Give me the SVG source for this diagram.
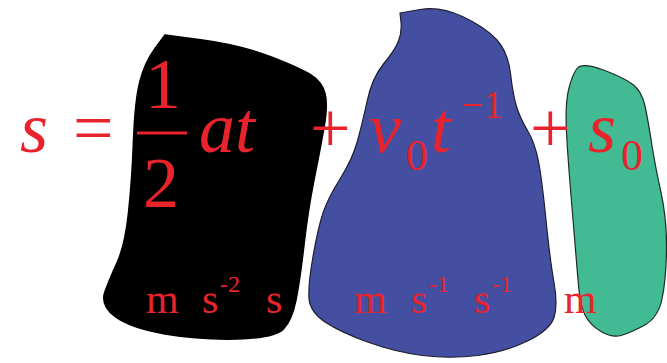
<svg xmlns="http://www.w3.org/2000/svg" width="667" height="363" viewBox="0 0 667 363">
<rect width="667" height="363" fill="#ffffff"/>
<g id="blob-black">
<path d="M202.5,40 Q240,45 270,56.5 Q300,68 311,75 Q322,82 325,93.5 Q328,105 324,127.5 Q320,150 314,180 Q308,210 304,245 Q300,280 296,300 Q292,320 283.5,329 Q275,338 237.5,339 Q200,340 165,334 Q130,328 115,316.5 Q100,305 105,291.5 Q110,278 117.5,261.5 Q125,245 128.5,212.5 Q132,180 133.5,140 Q135,100 140,81 Q145,62 155,48.5 L165,35 Z" fill="#000000" stroke="#000000" stroke-width="1.5" stroke-linejoin="round"/>
</g>
<g id="blob-blue">
<path d="M420,9.5 Q440,6 462.5,16.5 Q485,27 496.5,39.5 Q508,52 510.5,73.5 Q513,95 516.5,106.5 Q520,118 527.5,130.5 Q535,143 538.5,161.5 Q542,180 546,220 Q550,260 554,282.5 Q558,305 554,317.5 Q550,330 527.5,341 Q505,352 477.5,355.5 Q450,359 422.5,355.5 Q395,352 367.5,342 Q340,332 325,322 Q310,312 309,298.5 Q308,285 313,256.5 Q318,228 323,213 Q328,198 340,179 Q352,160 357,142.5 Q362,125 367,101.5 Q372,78 383.5,64 Q395,50 398.5,41 Q402,32 401,22 L400,13 Z" fill="#444fa1" stroke="#1e1e2e" stroke-width="1.2" stroke-linejoin="round"/>
</g>
<g id="blob-green">
<path d="M603.5,70 Q625,78 633.5,85 Q642,92 645,106 Q648,120 651.5,142.5 Q655,165 661,192.5 Q667,220 666.5,250 Q666,280 662,299 Q658,318 644,325.5 Q630,333 621,335.5 Q612,338 601,331.5 Q590,325 585,315 Q580,305 578,280 Q576,255 572,207.5 Q568,160 566.5,132.5 Q565,105 568.5,90 Q572,75 577,68.5 Q582,62 603.5,70 Z" fill="#42ba93" stroke="#1e2e28" stroke-width="1.2" stroke-linejoin="round"/>
</g>
<g id="equation">
<text fill="#e8232b" font-family="serif" font-style="italic" font-size="72" x="20" y="152">s</text>
<text fill="#e8232b" font-family="serif" font-size="72" x="73" y="152">=</text>
<rect x="137" y="131.5" width="50" height="3" fill="#e8232b"/>
<text fill="#e8232b" font-family="serif" font-size="72" x="145" y="108">1</text>
<text fill="#e8232b" font-family="serif" font-size="72" x="143" y="207">2</text>
<text fill="#e8232b" font-family="serif" font-style="italic" font-size="72" x="199" y="152">at</text>
<text fill="#e8232b" font-family="serif" font-size="72" x="310" y="152">+</text>
<text fill="#e8232b" font-family="serif" font-style="italic" font-size="72" x="369" y="152">v</text>
<text fill="#e8232b" font-family="serif" font-size="44" x="406" y="170">0</text>
<text fill="#e8232b" font-family="serif" font-style="italic" font-size="72" x="431" y="152">t</text>
<text fill="#e8232b" font-family="serif" font-size="40" x="461" y="118">−1</text>
<text fill="#e8232b" font-family="serif" font-size="72" x="530" y="152">+</text>
<text fill="#e8232b" font-family="serif" font-style="italic" font-size="72" x="588" y="152">s</text>
<text fill="#e8232b" font-family="serif" font-size="44" x="621" y="170">0</text>
</g>
<g id="units">
<text fill="#e8232b" font-family="serif" font-size="42" x="146" y="313">m</text>
<text fill="#e8232b" font-family="serif" font-size="42" x="202" y="313">s</text>
<text fill="#e8232b" font-family="serif" font-size="24" x="220" y="292">-2</text>
<text fill="#e8232b" font-family="serif" font-size="42" x="266" y="313">s</text>
<text fill="#e8232b" font-family="serif" font-size="42" x="354" y="313">m</text>
<text fill="#e8232b" font-family="serif" font-size="42" x="411" y="313">s</text>
<text fill="#e8232b" font-family="serif" font-size="24" x="429" y="292">-1</text>
<text fill="#e8232b" font-family="serif" font-size="42" x="474" y="313">s</text>
<text fill="#e8232b" font-family="serif" font-size="24" x="492" y="292">-1</text>
<text fill="#e8232b" font-family="serif" font-size="42" x="564" y="313">m</text>
</g>
<g id="connectors"/>
</svg>
